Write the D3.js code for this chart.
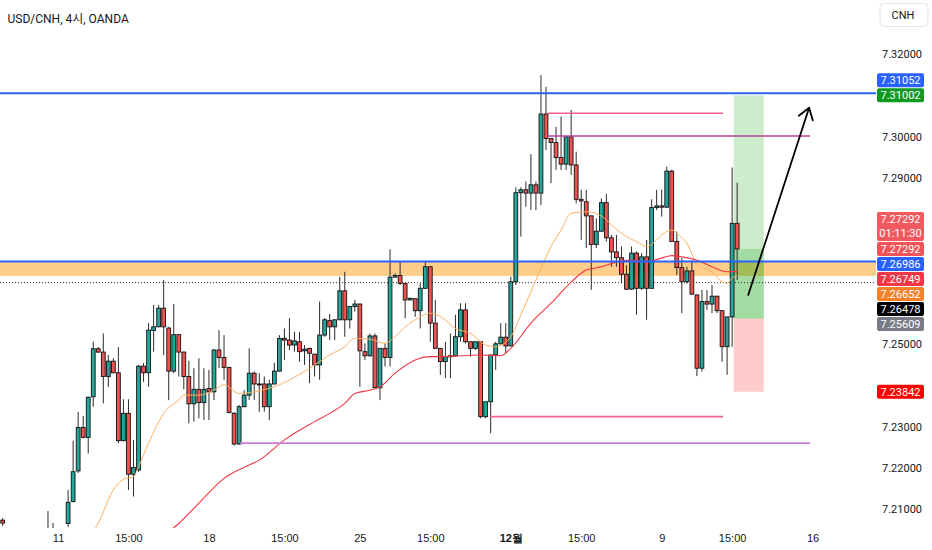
<!DOCTYPE html>
<html>
<head>
<meta charset="utf-8">
<script src="https://cdn.jsdelivr.net/npm/d3@7"></script>
<style>
html, body { margin: 0; padding: 0; background: #fff; }
svg { display: block; font-family: Roboto, "Noto Sans CJK KR", sans-serif; }
</style>
</head>
<body>
<svg id="chart" width="932" height="550"></svg>
<script>
// USD/CNH 4h candles (index 0 = left edge)
var opens = [7.2074,7.2045,7.2026,7.2038,7.2014,7.1997,7.2014,7.2026,7.2007,7.1983,7.2038,7.2021,7.2033,7.2066,7.2119,7.2193,7.2298,7.2274,7.2372,7.2488,
7.2480,7.2421,7.2458,7.2430,7.2266,7.2332,7.2185,7.2195,7.2446,7.2430,7.2532,7.2541,7.2586,7.2538,7.2434,7.2522,7.2480,7.2421,7.2355,7.2390,
7.2358,7.2392,7.2384,7.2485,7.2467,7.2443,7.2332,7.2258,7.2348,7.2376,7.2429,7.2403,7.2403,7.2348,7.2403,7.2434,7.2513,7.2509,7.2497,7.2505,
7.2483,7.2489,7.2475,7.2449,7.2521,7.2556,7.2541,7.2558,7.2628,7.2558,7.2590,7.2596,7.2481,7.2471,7.2519,7.2394,7.2489,7.2467,7.2661,7.2665,
7.2646,7.2606,7.2609,7.2580,7.2634,7.2686,7.2550,7.2489,7.2457,7.2469,7.2471,7.2517,7.2582,7.2505,7.2489,7.2505,7.2324,7.2360,7.2473,7.2500,
7.2516,7.2495,7.2650,7.2865,7.2872,7.2864,7.2884,7.2864,7.3055,7.2996,7.2986,7.2950,7.2934,7.3000,7.2932,7.2849,7.2843,7.2809,7.2740,7.2772,
7.2841,7.2756,7.2722,7.2708,7.2668,7.2632,7.2719,7.2634,7.2710,7.2634,7.2829,7.2833,7.2830,7.2917,7.2747,7.2684,7.2650,7.2676,7.2618,7.2441,
7.2602,7.2596,7.2615,7.2580,7.2493,7.2565,7.2791];
var highs = [7.2079,7.2055,7.2050,7.2048,7.2036,7.2026,7.2038,7.2045,7.2031,7.2096,7.2067,7.2050,7.2055,7.2147,7.2266,7.2335,7.2326,7.2372,7.2505,7.2492,
7.2525,7.2473,7.2465,7.2492,7.2366,7.2366,7.2268,7.2449,7.2454,7.2550,7.2594,7.2594,7.2654,7.2541,7.2596,7.2524,7.2481,7.2459,7.2441,7.2465,
7.2441,7.2437,7.2487,7.2533,7.2521,7.2444,7.2335,7.2352,7.2388,7.2489,7.2433,7.2429,7.2421,7.2413,7.2454,7.2521,7.2537,7.2562,7.2529,7.2529,
7.2497,7.2490,7.2475,7.2602,7.2562,7.2572,7.2558,7.2662,7.2674,7.2590,7.2606,7.2597,7.2501,7.2525,7.2525,7.2489,7.2501,7.2728,7.2670,7.2698,
7.2647,7.2611,7.2609,7.2646,7.2698,7.2688,7.2606,7.2490,7.2505,7.2525,7.2570,7.2598,7.2598,7.2505,7.2505,7.2505,7.2360,7.2473,7.2505,7.2550,
7.2550,7.2662,7.2878,7.2878,7.2892,7.2958,7.2892,7.3149,7.3121,7.2997,7.3024,7.3049,7.3000,7.3065,7.2964,7.2872,7.2872,7.2810,7.2803,7.2851,
7.2862,7.2763,7.2763,7.2735,7.2690,7.2735,7.2723,7.2719,7.2751,7.2849,7.2872,7.2872,7.2928,7.2920,7.2771,7.2707,7.2686,7.2702,7.2619,7.2630,
7.2630,7.2642,7.2616,7.2580,7.2565,7.2926,7.2889];
var lows = [7.2060,7.2014,7.2007,7.2002,7.1987,7.1978,7.1990,7.1997,7.1966,7.1973,7.2007,7.1997,7.2014,7.2058,7.2117,7.2188,7.2272,7.2235,7.2348,7.2478,
7.2356,7.2396,7.2429,7.2260,7.2264,7.2147,7.2131,7.2191,7.2408,7.2396,7.2481,7.2540,7.2473,7.2364,7.2429,7.2421,7.2390,7.2308,7.2312,7.2320,
7.2316,7.2316,7.2364,7.2441,7.2413,7.2332,7.2254,7.2256,7.2347,7.2364,7.2364,7.2336,7.2336,7.2316,7.2402,7.2433,7.2461,7.2485,7.2481,7.2457,
7.2449,7.2405,7.2421,7.2413,7.2517,7.2509,7.2509,7.2557,7.2517,7.2537,7.2578,7.2396,7.2461,7.2469,7.2393,7.2364,7.2445,7.2445,7.2660,7.2642,
7.2562,7.2605,7.2565,7.2537,7.2633,7.2505,7.2489,7.2425,7.2417,7.2417,7.2469,7.2505,7.2501,7.2469,7.2485,7.2320,7.2320,7.2284,7.2437,7.2498,
7.2477,7.2494,7.2642,7.2759,7.2831,7.2823,7.2823,7.2835,7.2968,7.2888,7.2920,7.2920,7.2920,7.2908,7.2839,7.2751,7.2731,7.2630,7.2731,7.2771,
7.2747,7.2686,7.2686,7.2646,7.2630,7.2630,7.2570,7.2630,7.2558,7.2633,7.2823,7.2807,7.2828,7.2747,7.2666,7.2574,7.2646,7.2618,7.2422,7.2433,
7.2582,7.2574,7.2574,7.2457,7.2425,7.2493,7.2654];
var closes = [7.2067,7.2026,7.2038,7.2014,7.1997,7.2014,7.2026,7.2007,7.1983,7.2038,7.2021,7.2033,7.2050,7.2117,7.2191,7.2298,7.2274,7.2371,7.2488,7.2480,
7.2421,7.2458,7.2430,7.2266,7.2332,7.2185,7.2201,7.2446,7.2430,7.2533,7.2541,7.2586,7.2541,7.2434,7.2522,7.2480,7.2421,7.2355,7.2390,7.2358,
7.2390,7.2384,7.2485,7.2467,7.2443,7.2334,7.2258,7.2348,7.2376,7.2429,7.2403,7.2402,7.2348,7.2403,7.2434,7.2513,7.2509,7.2497,7.2507,7.2481,
7.2487,7.2477,7.2449,7.2521,7.2558,7.2541,7.2558,7.2628,7.2558,7.2590,7.2596,7.2483,7.2471,7.2519,7.2394,7.2489,7.2467,7.2661,7.2665,7.2646,
7.2606,7.2610,7.2580,7.2634,7.2686,7.2550,7.2489,7.2457,7.2469,7.2471,7.2517,7.2582,7.2505,7.2489,7.2505,7.2324,7.2360,7.2473,7.2500,7.2516,
7.2495,7.2650,7.2865,7.2872,7.2864,7.2884,7.2864,7.3055,7.2996,7.2986,7.2950,7.2934,7.3000,7.2932,7.2849,7.2845,7.2809,7.2740,7.2772,7.2841,
7.2756,7.2722,7.2708,7.2668,7.2632,7.2719,7.2634,7.2710,7.2634,7.2829,7.2833,7.2830,7.2917,7.2747,7.2684,7.2650,7.2676,7.2620,7.2441,7.2602,
7.2596,7.2615,7.2580,7.2493,7.2565,7.2791,7.27292];

// moving averages, sampled at candle indices
var fastIdx = [15,19,22,24,26,27,29,32,35,36,39,42,44,47,50,55,61,65,68,70,73,76,78,80,82,85,87,90,93,96,98,101,103,106,109,111,113,116,119,121,124,126,128,130,131,133,134,136,138,141,143,144,145,146];
var fastVal = [7.2000,7.2067,7.2147,7.2173,7.2179,7.2203,7.2260,7.2332,7.2364,7.2376,7.2376,7.2388,7.2401,7.2380,7.2384,7.2401,7.2441,7.2473,7.2493,7.2513,7.2511,7.2501,7.2517,7.2541,7.2558,7.2574,7.2566,7.2537,7.2525,7.2497,7.2493,7.2517,7.2570,7.2654,7.2735,7.2775,7.2815,7.2819,7.2809,7.2787,7.2759,7.2747,7.2735,7.2751,7.2763,7.2775,7.2767,7.2743,7.2694,7.2674,7.2650,7.2646,7.2659,7.2665];
var slowIdx = [30,35,39,44,49,51,56,62,65,68,70,73,75,78,82,85,87,91,95,99,101,105,109,113,116,119,121,125,128,131,133,135,138,141,144,146];
var slowVal = [7.2020,7.2066,7.2115,7.2175,7.2207,7.2219,7.2268,7.2312,7.2332,7.2356,7.2380,7.2388,7.2396,7.2429,7.2461,7.2469,7.2469,7.2471,7.2473,7.2471,7.2489,7.2550,7.2598,7.2649,7.2678,7.2686,7.2694,7.2702,7.2698,7.2707,7.2713,7.2710,7.2702,7.2686,7.2674,7.2675];

// drawings
var blueLevels = [7.31052, 7.26986];
var zoneRange = [7.26986, 7.2664];
var dottedLevel = 7.26478;
var segPrice = [7.3057, 7.3002, 7.2324, 7.2260];
var segFrom = [108.3, 108.3, 96.9, 47.2];
var segTo = [143.2, 160.5, 143.2, 160.5];
var posRange = [145.3, 151.3];
var posEntry = 7.25609, posTarget = 7.31002, posStop = 7.23842, lastPrice = 7.27292;
var arrowFrom = [148.2, 7.2618], arrowTo = [160.3, 7.3070];

// axes
var priceTicks = [7.21, 7.22, 7.23, 7.24, 7.25, 7.26, 7.27, 7.28, 7.29, 7.30, 7.31, 7.32];
var timeTickIdx = [11, 25, 41, 56, 71, 85, 101, 115, 131, 145, 161];
var timeTickLabels = ["11", "15:00", "18", "15:00", "25", "15:00", "12월", "15:00", "9", "15:00", "16"];

// price scale labels
var labelValues = [7.31052, 7.31002, 7.27292, 7.27292, 7.26986, 7.26749, 7.26652, 7.26478, 7.25609, 7.23842];
var labelTimers = ["", "", "01:11:30", "", "", "", "", "", "", ""];
var labelFixed = [false, true, false, true, false, false, false, false, false, true];

var plotRight = 876, plotBottom = 528;
var svg = d3.select("#chart");
var x = d3.scaleLinear().domain([0, 173.6]).range([2.7, plotRight]);
var y = d3.scaleLinear().domain([7.21, 7.32]).range([509.4, 54]);

svg.append("defs").append("clipPath").attr("id", "plotClip")
	.append("rect").attr("x", 0).attr("y", 0).attr("width", plotRight).attr("height", plotBottom);
var plot = svg.append("g").attr("clip-path", "url(#plotClip)");

// orange zone
plot.append("rect").attr("x", 0).attr("width", plotRight)
	.attr("y", y(zoneRange[0])).attr("height", y(zoneRange[1]) - y(zoneRange[0]))
	.attr("fill", "rgba(255,160,30,0.52)");

// long position box
var px0 = x(posRange[0]), pw = x(posRange[1]) - x(posRange[0]);
plot.append("rect").attr("x", px0).attr("width", pw).attr("y", y(posTarget)).attr("height", y(posEntry) - y(posTarget)).attr("fill", "rgba(0,160,0,0.2)");
plot.append("rect").attr("x", px0).attr("width", pw).attr("y", y(lastPrice)).attr("height", y(posEntry) - y(lastPrice)).attr("fill", "rgba(0,160,0,0.2)");
plot.append("rect").attr("x", px0).attr("width", pw).attr("y", y(posEntry)).attr("height", y(posStop) - y(posEntry)).attr("fill", "rgba(255,0,0,0.2)");

// dotted price line
plot.append("line").attr("x1", 0).attr("x2", plotRight).attr("y1", y(dottedLevel)).attr("y2", y(dottedLevel))
	.attr("stroke", "#333").attr("stroke-width", 1).attr("stroke-dasharray", "1,2");

// candles
var idx = d3.range(opens.length);
var candleLayer = plot.append("g");
candleLayer.selectAll("line.wick").data(idx).join("line").attr("class", "wick")
	.attr("x1", function (i) { return x(i); }).attr("x2", function (i) { return x(i); })
	.attr("y1", function (i) { return y(highs[i]); }).attr("y2", function (i) { return y(lows[i]); })
	.attr("stroke", "#2b2b2b").attr("stroke-width", 1);
candleLayer.selectAll("rect.body").data(idx).join("rect").attr("class", "body")
	.attr("x", function (i) { return x(i) - 1.9; }).attr("width", 3.8)
	.attr("y", function (i) { return y(Math.max(opens[i], closes[i])); })
	.attr("height", function (i) { return Math.max(1, Math.abs(y(opens[i]) - y(closes[i]))); })
	.attr("fill", function (i) { return closes[i] >= opens[i] ? "#26a69a" : "#ef5350"; })
	.attr("stroke", "#111").attr("stroke-width", 0.9);

// moving averages
var maLine = d3.line().curve(d3.curveMonotoneX);
plot.append("path").attr("d", maLine(fastIdx.map(function (d, i) { return [x(d), y(fastVal[i])]; })))
	.attr("fill", "none").attr("stroke", "#ffb061").attr("stroke-width", 1);
plot.append("path").attr("d", maLine(slowIdx.map(function (d, i) { return [x(d), y(slowVal[i])]; })))
	.attr("fill", "none").attr("stroke", "#f23645").attr("stroke-width", 1.1);

// horizontal blue levels
plot.selectAll("line.blue").data(blueLevels).join("line").attr("class", "blue")
	.attr("x1", 0).attr("x2", plotRight).attr("y1", function (d) { return y(d); }).attr("y2", function (d) { return y(d); })
	.attr("stroke", "#2962ff").attr("stroke-width", 2);

// segments
var segColors = ["#f2628a", "#b8449a", "#f2628a", "#c77fd6"];
plot.selectAll("line.seg").data(segPrice).join("line").attr("class", "seg")
	.attr("x1", function (d, i) { return x(segFrom[i]); }).attr("x2", function (d, i) { return x(segTo[i]); })
	.attr("y1", function (d) { return y(d); }).attr("y2", function (d) { return y(d); })
	.attr("stroke", function (d, i) { return segColors[i]; }).attr("stroke-width", 1.6);

// arrow
var ax0 = x(arrowFrom[0]), ay0 = y(arrowFrom[1]), ax1 = x(arrowTo[0]), ay1 = y(arrowTo[1]);
var ang = Math.atan2(ay1 - ay0, ax1 - ax0);
var arrow = plot.append("g").attr("stroke", "#000").attr("stroke-width", 1.8).attr("fill", "none").attr("stroke-linecap", "round");
arrow.append("line").attr("x1", ax0).attr("y1", ay0).attr("x2", ax1).attr("y2", ay1);
[-0.6, 0.6].forEach(function (da) {
	arrow.append("line").attr("x1", ax1).attr("y1", ay1)
		.attr("x2", ax1 - 13 * Math.cos(ang + da)).attr("y2", ay1 - 13 * Math.sin(ang + da));
});

// price labels with simple collision push
var labs = labelValues.map(function (v, i) {
	return { v: v, i: i, h: labelTimers[i] ? 29 : 14, top: y(v) - 7, fixed: labelFixed[i] };
});
labs.sort(function (a, b) { return (y(a.v) - y(b.v)) || (a.i - b.i); });
for (var k = 1; k < labs.length; k++) {
	if (!labs[k].fixed) labs[k].top = Math.max(labs[k].top, labs[k - 1].top + labs[k - 1].h + 1);
}
for (var k = labs.length - 2; k >= 0; k--) {
	if (!labs[k].fixed) labs[k].top = Math.min(labs[k].top, labs[k + 1].top - 1 - labs[k].h);
}

// price axis, ticks under a label are hidden like in the terminal
var visibleTicks = priceTicks.filter(function (t) {
	return !labs.some(function (l) { return y(t) + 4 > l.top && y(t) - 4 < l.top + l.h; });
});
var axisG = svg.append("g").attr("transform", "translate(" + plotRight + ",0)")
	.call(d3.axisRight(y).tickValues(visibleTicks).tickFormat(d3.format(".5f")).tickSize(0));
axisG.select(".domain").remove();
axisG.selectAll("text").attr("x", 26).attr("text-anchor", "middle").attr("fill", "#131722").attr("font-size", 11).attr("font-family", "Roboto, sans-serif");

var labelColors = ["#2962ff", "#119a22", "#f0595e", "#f05358", "#2962ff", "#f23645", "#f5802a", "#000000", "#787b86", "#ff0000"];
var labG = svg.append("g").attr("font-size", 11).attr("fill", "#fff").attr("text-anchor", "middle");
labs.forEach(function (l) {
	labG.append("rect").attr("x", 877).attr("y", l.top).attr("width", 47).attr("height", l.h).attr("rx", 2)
		.attr("fill", labelColors[l.i]);
	labG.append("text").attr("x", 900.5).attr("y", l.top + 7).attr("dy", "0.36em").text(d3.format(".5f")(l.v));
	if (labelTimers[l.i]) {
		labG.append("text").attr("x", 900.5).attr("y", l.top + 21).attr("dy", "0.36em").text(labelTimers[l.i]);
	}
});

// currency box
svg.append("rect").attr("x", 880).attr("y", 3.5).attr("width", 48).attr("height", 23).attr("rx", 4)
	.attr("fill", "#fff").attr("stroke", "#e0e3eb");
svg.append("text").attr("x", 903).attr("y", 15).attr("dy", "0.36em").attr("text-anchor", "middle")
	.attr("font-size", 11).attr("fill", "#131722").text("CNH");

// time axis
var timeG = svg.append("g").attr("transform", "translate(0," + plotBottom + ")")
	.call(d3.axisBottom(x).tickValues(timeTickIdx).tickFormat(function (d, i) { return timeTickLabels[i]; }).tickSize(0).tickPadding(6));
timeG.select(".domain").remove();
timeG.selectAll("text").attr("fill", "#131722").attr("font-size", 11)
	.attr("font-weight", function (d, i) { return timeTickLabels[i] === "12월" ? "bold" : "normal"; });

// title
svg.append("text").attr("x", 7.5).attr("y", 23).attr("font-size", 12).attr("fill", "#131722").text("USD/CNH, 4시, OANDA");
</script>
</body>
</html>
